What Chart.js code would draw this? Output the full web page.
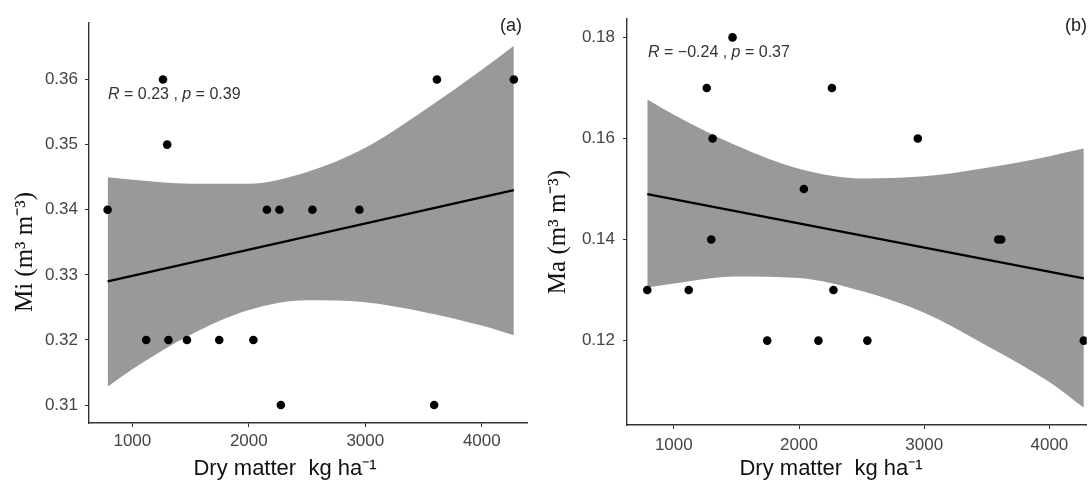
<!DOCTYPE html>
<html>
<head>
<meta charset="utf-8">
<script src="https://cdn.jsdelivr.net/npm/chart.js@4.4.1/dist/chart.umd.min.js"></script>
<style>
  body { margin: 0; background: #fff; }
  .row { display: flex; width: 1091px; height: 486px; }
  .panel { position: relative; height: 486px; }
</style>
</head>
<body>
<div class="row">
  <div class="panel" style="width:545px"><canvas id="chartA"></canvas></div>
  <div class="panel" style="width:546px"><canvas id="chartB"></canvas></div>
</div>
<script>
// dry matter (kg/ha), same plots in both panels
const dryMatter = [788, 1119, 1263, 1299, 1310, 1469, 1746, 2039, 2155, 2263, 2275, 2546, 2949, 3591, 3615, 4275];
const mi = [0.34, 0.32, 0.36, 0.35, 0.32, 0.32, 0.32, 0.32, 0.34, 0.34, 0.31, 0.34, 0.34, 0.31, 0.36, 0.36];
const ma = [0.13, 0.13, 0.17, 0.14, 0.16, 0.18, 0.12, 0.15, 0.12, 0.17, 0.13, 0.12, 0.16, 0.14, 0.14, 0.12];

// fitted lines (end points)
const fitX = [788, 4275];
const miFit = [0.3290, 0.3430];
const maFit = [0.1490, 0.1323];

// confidence band edges
const bandX = [788, 1000, 1500, 2000, 2500, 3000, 3500, 4000, 4275];
const miUpper = [0.3450, 0.3446, 0.3440, 0.3440, 0.3458, 0.3495, 0.3552, 0.3615, 0.3652];
const miLower = [0.3128, 0.3155, 0.3208, 0.3246, 0.3261, 0.3258, 0.3243, 0.3222, 0.3207];
const maUpper = [0.1677, 0.1647, 0.1586, 0.1540, 0.1521, 0.1525, 0.1542, 0.1565, 0.1580];
const maLower = [0.1305, 0.1313, 0.1327, 0.1324, 0.1298, 0.1255, 0.1190, 0.1118, 0.1067];

const xTicks = [1000, 2000, 3000, 4000];
const miTicks = [0.31, 0.32, 0.33, 0.34, 0.35, 0.36];
const maTicks = [0.12, 0.14, 0.16, 0.18];

const xTitle = 'Dry matter  kg ha\u207B\u00B9';
const miTitle = 'Mi (m\u00B3 m\u207B\u00B3)';
const maTitle = 'Ma (m\u00B3 m\u207B\u00B3)';
const miStats = [['R', true], [' = 0.23 , ', false], ['p', true], [' = 0.39', false]];
const maStats = [['R', true], [' = \u22120.24 , ', false], ['p', true], [' = 0.37', false]];

const pts = (xs, ys) => xs.map((x, i) => ({ x: x, y: ys[i] }));

// extra texts: axis titles, R/p note, panel letter
const textPlugin = {
    id: 'texts',
    afterDraw(chart, args, o) {
        const c = chart.ctx;
        c.save();
        c.fillStyle = '#111';
        c.textAlign = 'center';
        c.textBaseline = 'middle';
        c.font = '22px "Liberation Sans", Arial, sans-serif';
        c.fillText(xTitle, o.xTitleX, 469);

        c.save();
        c.translate(o.yTitleX, o.yTitleY);
        c.rotate(-Math.PI / 2);
        c.font = '25px "Liberation Serif", "Times New Roman", serif';
        c.fillText(o.yTitle, 0, 0);
        c.restore();

        c.font = '18px "Liberation Sans", Arial, sans-serif';
        c.fillStyle = '#222';
        c.fillText(o.letter, o.letterX, 26);

        c.textAlign = 'left';
        c.fillStyle = '#333';
        let x = o.statsX;
        o.stats.forEach(([s, it]) => {
            c.font = (it ? 'italic ' : '') + '16px "Liberation Sans", Arial, sans-serif';
            c.fillText(s, x, o.statsY);
            x += c.measureText(s).width;
        });
        c.restore();
    }
};

function makeChart(id, ys, fit, upper, lower, opts) {
    return new Chart(document.getElementById(id), {
        type: 'scatter',
        data: {
            datasets: [
                { data: pts(dryMatter, ys), backgroundColor: '#000', pointRadius: 4.3, pointBorderWidth: 0, order: 0 },
                { data: pts(fitX, fit), showLine: true, borderColor: '#000', borderWidth: 2.2, pointRadius: 0, order: 1 },
                { data: pts(bandX, upper), showLine: true, borderWidth: 0, borderColor: 'rgba(0,0,0,0)', pointRadius: 0,
                  cubicInterpolationMode: 'monotone', fill: '+1', backgroundColor: '#999999', order: 2 },
                { data: pts(bandX, lower), showLine: true, borderWidth: 0, borderColor: 'rgba(0,0,0,0)', pointRadius: 0,
                  cubicInterpolationMode: 'monotone', order: 3 }
            ]
        },
        options: {
            responsive: true,
            maintainAspectRatio: false,
            animation: false,
            layout: { padding: opts.padding },
            plugins: {
                legend: { display: false },
                tooltip: { enabled: false },
                texts: opts.texts
            },
            scales: {
                x: {
                    min: opts.xMin, max: opts.xMax,
                    afterBuildTicks: s => { s.ticks = xTicks.map(v => ({ value: v })); },
                    afterFit: s => { s.height = opts.xHeight; },
                    grid: { display: true, drawOnChartArea: false, drawTicks: true, tickLength: 4, color: '#333' },
                    border: { display: true, color: '#333', width: 1.4 },
                    ticks: { color: '#444', padding: opts.xPad, font: { size: 17, family: '"Liberation Sans", Arial, sans-serif' },
                             callback: v => String(v) }
                },
                y: {
                    min: opts.yMin, max: opts.yMax,
                    afterBuildTicks: s => { s.ticks = opts.yTicks.map(v => ({ value: v })); },
                    afterFit: s => { s.width = opts.yWidth; },
                    grid: { display: true, drawOnChartArea: false, drawTicks: true, tickLength: 4, color: '#333' },
                    border: { display: true, color: '#333', width: 1.4 },
                    ticks: { color: '#444', padding: opts.yPad, font: { size: 17, family: '"Liberation Sans", Arial, sans-serif' },
                             callback: v => v.toFixed(2) }
                }
            }
        },
        plugins: [textPlugin]
    });
}

makeChart('chartA', mi, miFit, miUpper, miLower, {
    padding: { top: 23, right: 18, left: 0, bottom: 0 },
    xMin: 628, xMax: 4388, yMin: 0.30724, yMax: 0.36868,
    yTicks: miTicks, xHeight: 63, yWidth: 89, xPad: 4, yPad: 7,
    texts: { yTitle: miTitle, yTitleX: 25, yTitleY: 252, xTitleX: 285, letter: '(a)', letterX: 511,
             stats: miStats, statsX: 108, statsY: 95 }
});

makeChart('chartB', ma, maFit, maUpper, maLower, {
    padding: { top: 19, right: 0, left: 0, bottom: 0 },
    xMin: 626, xMax: 4298, yMin: 0.1033, yMax: 0.18364,
    yTicks: maTicks, xHeight: 61, yWidth: 82, xPad: 6, yPad: 8,
    texts: { yTitle: maTitle, yTitleX: 13, yTitleY: 232, xTitleX: 286, letter: '(b)', letterX: 531,
             stats: maStats, statsX: 103, statsY: 53 }
});
</script>
</body>
</html>
